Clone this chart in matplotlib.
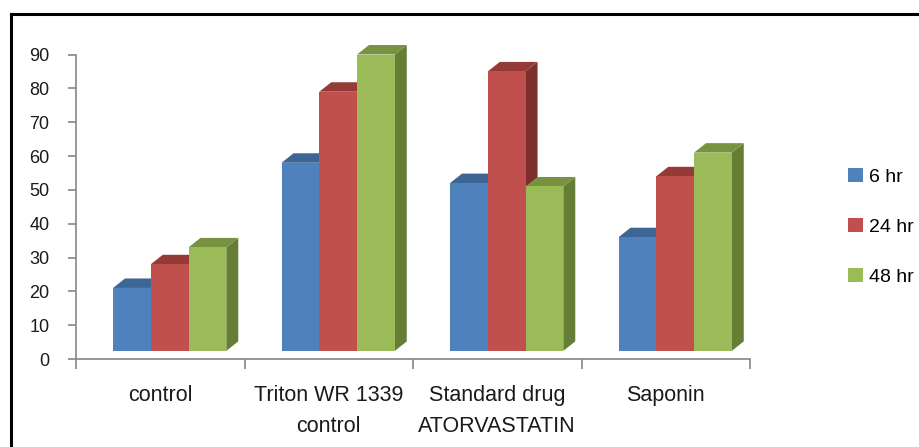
import matplotlib
matplotlib.use("Agg")
import matplotlib.pyplot as plt
from matplotlib.patches import Polygon, Patch
from matplotlib.lines import Line2D
import numpy as np

# data
categories = ["control", "Triton WR 1339\ncontrol", "Standard drug\nATORVASTATIN", "Saponin"]
series_names = ["6 hr", "24 hr", "48 hr"]
hr6 = [21, 58, 52, 36]
hr24 = [28, 79, 85, 54]
hr48 = [33, 90, 51, 61]
y_ticks = [0, 10, 20, 30, 40, 50, 60, 70, 80, 90]

# front / top / side shades for the pseudo-3D columns
front_cols = ["#4F81BD", "#C0504D", "#9BBB59"]
top_cols = ["#3D6596", "#963A38", "#78933F"]
side_cols = ["#375B88", "#7C2F2D", "#667D35"]

plt.rcParams['font.family'] = ['Liberation Sans', 'DejaVu Sans']

fig = plt.figure(figsize=(9.19, 4.47), dpi=100)
ax = fig.add_axes([76/919, 1 - 359/447, (750 - 76)/919, (359 - 54.5)/447])

bar_w = 0.224
first_left = 0.22
floor = 2.4      # columns sit slightly above the axis line
dx, dy = 0.071, 2.8   # depth of the top and side faces

values = [hr6, hr24, hr48]
for i in range(len(categories)):
    for k in range(3):
        v = values[k][i]
        x0 = i + first_left + k * bar_w
        x1 = x0 + bar_w
        side = Polygon([(x1, floor), (x1 + dx, floor + dy), (x1 + dx, v + dy), (x1, v)],
                       closed=True, facecolor=side_cols[k], edgecolor='none',
                       zorder=3 + k, clip_on=False)
        top = Polygon([(x0, v), (x0 + dx, v + dy), (x1 + dx, v + dy), (x1, v)],
                      closed=True, facecolor=top_cols[k], edgecolor='none',
                      zorder=3 + k, clip_on=False)
        ax.add_patch(side)
        ax.add_patch(top)
        ax.bar(x0, v - floor, width=bar_w, bottom=floor, align='edge',
               color=front_cols[k], edgecolor='none', zorder=3 + k, clip_on=False)

ax.set_xlim(0, 4)
ax.set_ylim(0, 90)
ax.set_yticks(y_ticks)
ax.set_xticks([0, 1, 2, 3, 4])
ax.set_xticklabels([])
ax.set_xticks(np.arange(len(categories)) + 0.5, minor=True)
ax.set_xticklabels(categories, minor=True, fontsize=15.5, color='#1a1a1a', linespacing=1.6)
ax.tick_params(axis='x', which='minor', length=0, pad=19)
ax.tick_params(axis='x', which='major', length=7, width=1.2, color='#868686', direction='out')
ax.tick_params(axis='y', length=6, width=1.2, color='#868686', direction='out',
               labelsize=13, pad=13, labelcolor='#1a1a1a')

for s in ['top', 'right']:
    ax.spines[s].set_visible(False)
for s in ['left', 'bottom']:
    ax.spines[s].set_color('#868686')
    ax.spines[s].set_linewidth(1.2)

handles = [Patch(facecolor=c, edgecolor='none') for c in front_cols]
fig.legend(handles, series_names, loc='center left', bbox_to_anchor=(848/919, 1 - 227/447),
           frameon=False, fontsize=14, handlelength=0.75, handleheight=0.75,
           handletextpad=0.35, labelspacing=1.65, borderpad=0, borderaxespad=0)

# outer frame (top and left edges)
fig.add_artist(Line2D([11/919, 1], [1 - 14/447, 1 - 14/447], color='black', lw=2.2,
                      transform=fig.transFigure))
fig.add_artist(Line2D([11/919, 11/919], [0, 1 - 14/447], color='black', lw=2.2,
                      transform=fig.transFigure))

fig.savefig("out.png", dpi=100)
